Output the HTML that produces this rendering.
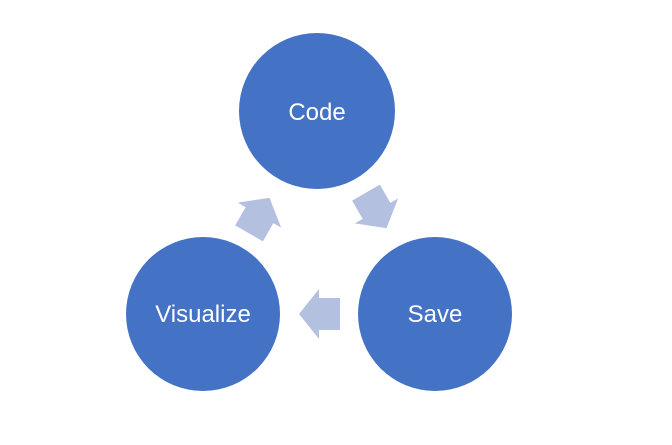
<!DOCTYPE html>
<html><head><style>
body{margin:0;width:672px;height:440px;background:#fff;overflow:hidden}
</style></head><body>
<svg width="672" height="440" xmlns="http://www.w3.org/2000/svg">
<defs><polygon id="a" points="-21,0 -1,-25 -1,-16 20,-16 20,16 -1,16 -1,25" fill="#b4c0e0"/></defs>
<circle cx="317" cy="111" r="78" fill="#4472c4"/>
<circle cx="203" cy="314" r="77" fill="#4472c4"/>
<circle cx="435" cy="314" r="77" fill="#4472c4"/>
<use href="#a" transform="translate(320,314)"/>
<use href="#a" transform="translate(259,216) rotate(120)"/>
<use href="#a" transform="translate(376,210) rotate(-120)"/>
<g font-family="Liberation Sans, sans-serif" font-size="24" fill="#fff" text-anchor="middle">
<text x="317" y="120">Code</text>
<text x="203" y="322">Visualize</text>
<text x="435" y="322">Save</text>
</g>
</svg>
</body></html>
